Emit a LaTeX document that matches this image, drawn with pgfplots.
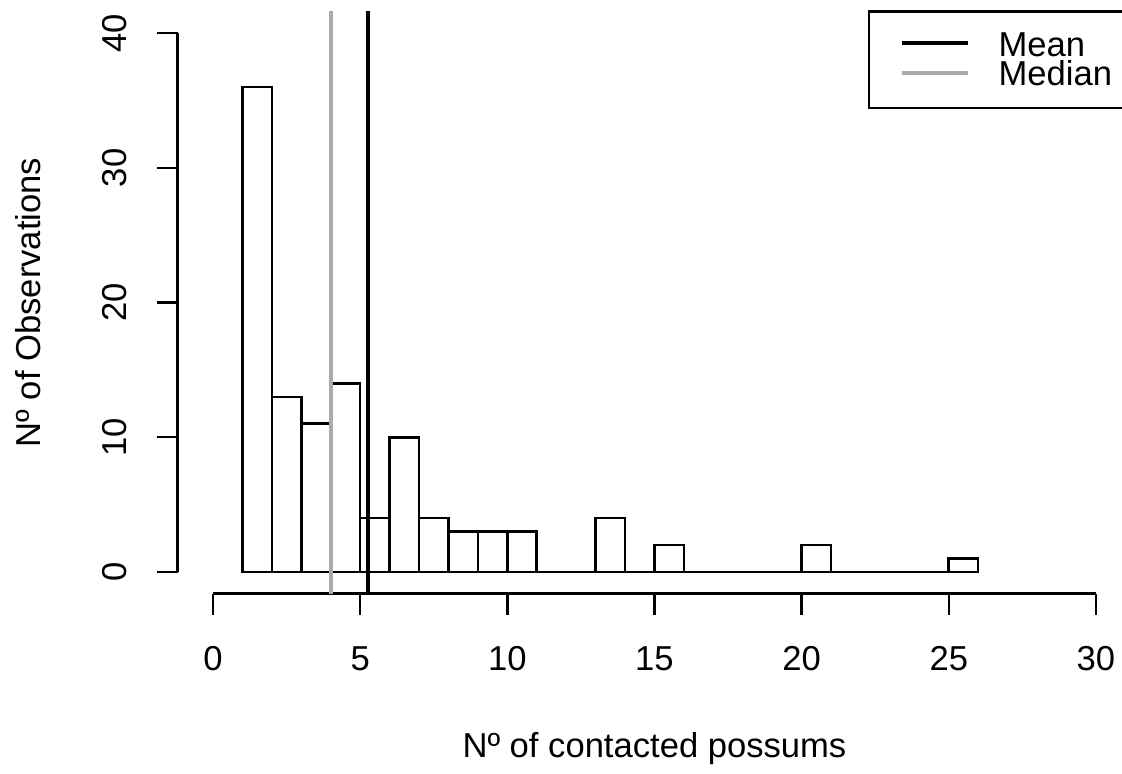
\documentclass[border=0pt]{standalone}
\usepackage{fontspec}
\setmainfont{Liberation Sans}
\usepackage{pgfplots}
\pgfplotsset{compat=1.18}
\definecolor{medgrey}{HTML}{ABABAB}

% one reference pixel = 0.5pt
\begin{document}
\begin{tikzpicture}[font=\fontsize{17.3pt}{20pt}\selectfont]
\begin{axis}[
  x=14.715pt, y=6.7375pt,
  xmin=-1.2, xmax=31.2, ymin=-1.6, ymax=41.6,
  clip=false,
  axis x line*=bottom, axis y line*=left,
  x axis line style={-, line width=1.2pt, shorten <=17.66pt, shorten >=17.66pt},
  y axis line style={-, line width=1.2pt, shorten <=10.78pt, shorten >=10.78pt},
  tick style={black, line width=1.2pt},
  tick align=outside, major tick length=10.5pt,
  xtick={0,5,...,30}, ytick={0,10,...,40},
  minor tick num=0,
  /pgf/number format/assume math mode=true,
  xticklabel style={anchor=center, yshift=-22pt},
  yticklabel style={xshift=-21pt, rotate=90, anchor=center},
  xlabel={Nº of contacted possums},
  ylabel={Nº of Observations},
  xlabel style={at={(axis description cs:0.5,-0.266)}, anchor=center},
  ylabel style={at={(axis description cs:-0.157,0.5)}, anchor=center},
]
% histogram, bins of width 1 (centres)
\addplot[ybar, bar width=1, fill=white, draw=black, line width=1.3pt] coordinates {
(1.5,36) (2.5,13) (3.5,11) (4.5,14) (5.5,4) (6.5,10) (7.5,4) (8.5,3) (9.5,3) (10.5,3)
(11.5,0) (12.5,0) (13.5,4) (14.5,0) (15.5,2) (16.5,0) (17.5,0) (18.5,0) (19.5,0)
(20.5,2) (21.5,0) (22.5,0) (23.5,0) (24.5,0) (25.5,1) };
% median and mean
\addplot[medgrey, line width=2pt] coordinates {(4,-1.6) (4,41.6)};
\addplot[black, line width=2pt] coordinates {(5.26,-1.6) (5.26,41.6)};
% legend
\draw[line width=1.2pt, fill=white] (axis cs:22.29,41.6) rectangle (axis cs:31.5,34.43);
\draw[black, line width=2pt] (axis cs:23.41,39.26) -- (axis cs:25.65,39.26);
\draw[medgrey, line width=2pt] (axis cs:23.41,37.03) -- (axis cs:25.65,37.03);
\node[anchor=base west, inner sep=0pt] at (axis cs:26.68,38.24) {Mean};
\node[anchor=base west, inner sep=0pt] at (axis cs:26.68,36.07) {Median};
\coordinate (bl) at (axis cs:-7.2375,-14.917);
\coordinate (tr) at (axis cs:30.887,42.45);
\end{axis}
\pgfresetboundingbox
\useasboundingbox (bl) rectangle (tr);
\end{tikzpicture}
\end{document}
